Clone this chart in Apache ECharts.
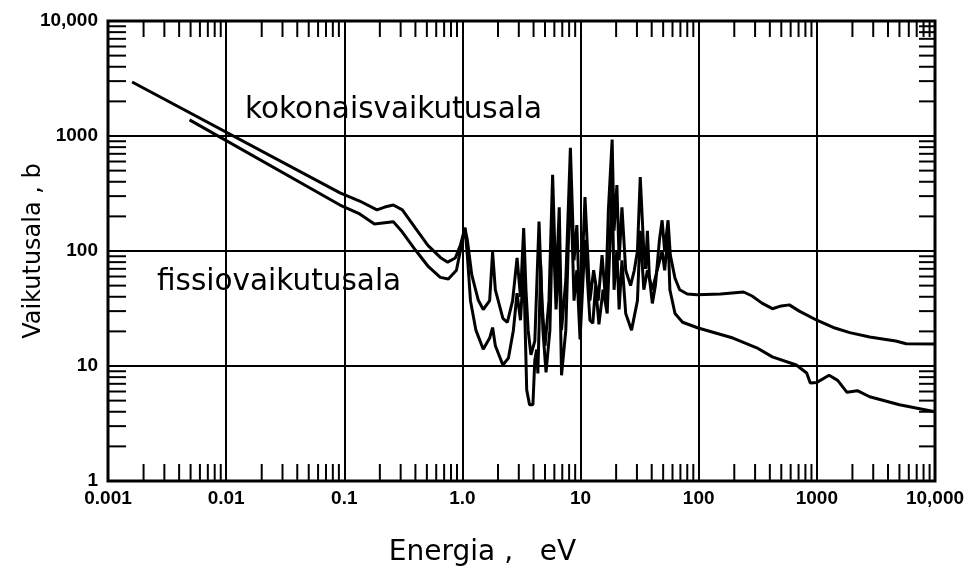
<!DOCTYPE html>
<html>
<head>
<meta charset="utf-8">
<script src="https://cdn.jsdelivr.net/npm/echarts@6/dist/echarts.min.js"></script>
<style>
  html, body { margin: 0; padding: 0; background: #fff; }
  #chart { width: 964px; height: 567px; }
</style>
</head>
<body>
<div id="chart"></div>
<script>
// tick labels
var xTickLabels = ['0.001', '0.01', '0.1', '1.0', '10', '100', '1000', '10,000'];
var yTickLabels = ['1', '10', '100', '1000', '10,000'];

// kokonaisvaikutusala (total), energy in eV and cross section in barns
var totalEnergy = [0.0016, 0.092, 0.135, 0.189, 0.22, 0.26, 0.31, 0.40, 0.51, 0.65, 0.75, 0.87, 0.96, 1.05, 1.1, 1.2,
  1.36, 1.5, 1.7, 1.8, 1.9, 2.2, 2.4, 2.66, 2.9, 3.1, 3.3, 3.45, 3.6, 3.8, 4.1, 4.45, 4.7, 5.0, 5.4, 5.8, 6.2, 6.6,
  6.9, 7.5, 8.2, 8.8, 9.3, 9.9, 10.9, 12.0, 12.9, 14.1, 15.2, 16.3, 17.2, 18.5, 19.2, 20.3, 21.2, 22.4, 24.1, 26.5,
  28.5, 30.3, 32, 34.3, 35.5, 36.8, 38.2, 40.5, 43, 46.5, 49, 51.5, 55, 57.5, 63, 69, 80, 97, 153, 240, 283, 343,
  420, 500, 585, 710, 1000, 1420, 1900, 2800, 3600, 4650, 5700, 10000];
var totalSigma = [2950, 320, 272, 228, 241, 251, 228, 158, 112, 88, 80, 87, 112, 158, 125, 62,
  37.5, 31, 37, 98, 46, 26, 24, 37, 87, 40, 158, 46, 20.5, 12.5, 16.5, 180, 37, 15, 37, 460, 46, 240,
  20.5, 56, 790, 83, 168, 25, 295, 37, 68, 37, 92, 37, 228, 930, 150, 375, 83, 240, 68, 50,
  68, 100, 440, 100, 70, 150, 60, 35, 50, 125, 185, 100, 185, 92, 58, 46, 42.3, 41.6, 42.3, 44, 40.6, 35.2,
  31.5, 33.3, 34, 30, 25, 21.4, 19.5, 17.9, 17.2, 16.5, 15.6, 15.5];

// fissiovaikutusala (fission)
var fissionEnergy = [0.0049, 0.092, 0.135, 0.18, 0.26, 0.31, 0.40, 0.51, 0.65, 0.76, 0.89, 0.98, 1.05, 1.1, 1.17, 1.3,
  1.5, 1.7, 1.8, 1.9, 2.2, 2.45, 2.7, 2.9, 3.1, 3.3, 3.4, 3.5, 3.7, 3.95, 4.1, 4.25, 4.35, 4.6, 4.8, 5.1, 5.5, 5.8,
  6.2, 6.6, 6.9, 7.5, 8.2, 8.8, 9.3, 9.9, 10.9, 12.0, 12.7, 13.4, 14.3, 15.5, 16.8, 17.8, 18.5, 19.2, 20.3, 21.2,
  22.4, 24.1, 27, 30.3, 32, 34.3, 36.8, 40.5, 44.5, 49, 51.5, 55, 57, 63, 73, 99, 195, 310, 420, 670, 820, 880,
  1000, 1270, 1500, 1800, 2200, 2800, 5000, 10000];
var fissionSigma = [1380, 251, 210, 172, 180, 146, 102, 74, 59, 57, 68, 112, 160, 92, 37, 20.5,
  14, 17.5, 21.6, 15, 10.2, 11.7, 20.5, 43, 25, 75, 20.5, 6.2, 4.6, 4.6, 11.3, 13.9, 8.6, 75, 20.5, 8.8, 20.5, 206,
  31, 102, 8.3, 20.5, 460, 37, 68, 17, 125, 25, 23.5, 50, 23, 46, 28.6, 125, 414, 46, 102, 31,
  83, 28.6, 20.5, 37, 150, 46, 68, 46, 68, 100, 68, 138, 46, 28.6, 24, 21.4, 17.5, 14.4, 12, 10.2, 8.7, 7.1,
  7.2, 8.3, 7.5, 5.9, 6.1, 5.4, 4.6, 4.0];

function zip(xs, ys) {
  return xs.map(function (x, i) { return [x, ys[i]]; });
}

// minor ticks 2..9 of every decade
var xMinor = [];
for (var k = -3; k < 4; k++) for (var m = 2; m < 10; m++) xMinor.push([m * Math.pow(10, k), 1]);
var yMinor = [];
for (var k2 = 0; k2 < 4; k2++) for (var m2 = 2; m2 < 10; m2++) yMinor.push([0.001, m2 * Math.pow(10, k2)]);

var tickStyle = { stroke: '#000', lineWidth: 2 };

function xTick(params, api) {
  var v = api.value(0);
  var b = api.coord([v, 1]);
  var t = api.coord([v, 10000]);
  return {
    type: 'group',
    children: [
      { type: 'line', shape: { x1: b[0], y1: b[1], x2: b[0], y2: b[1] - 17 }, style: tickStyle },
      { type: 'line', shape: { x1: t[0], y1: t[1], x2: t[0], y2: t[1] + 16 }, style: tickStyle }
    ]
  };
}

function yTick(params, api) {
  var v = api.value(1);
  var l = api.coord([0.001, v]);
  var r = api.coord([10000, v]);
  return {
    type: 'group',
    children: [
      { type: 'line', shape: { x1: l[0], y1: l[1], x2: l[0] + 18, y2: l[1] }, style: tickStyle },
      { type: 'line', shape: { x1: r[0], y1: r[1], x2: r[0] - 16, y2: r[1] }, style: tickStyle }
    ]
  };
}

var labelFont = { color: '#000', fontFamily: 'Liberation Sans', fontWeight: 'bold', fontSize: 19 };

var chart = echarts.init(document.getElementById('chart'));
chart.setOption({
  animation: false,
  backgroundColor: '#fff',
  grid: {
    left: 108, right: 29, top: 21, bottom: 86,
    outerBoundsMode: 'none',
    containLabel: false,
    show: true, borderColor: '#000', borderWidth: 3
  },
  xAxis: {
    type: 'log',
    logBase: 10,
    min: 0.001,
    max: 10000,
    name: 'Energia ,   eV',
    nameLocation: 'middle',
    nameGap: 58,
    nameMoveOverlap: false,
    nameTextStyle: { color: '#000', fontFamily: 'DejaVu Sans', fontSize: 28, padding: [0, 78, 0, 0] },
    axisLine: { show: false },
    axisTick: { show: false },
    splitLine: { show: true, lineStyle: { color: '#000', width: 2 } },
    axisLabel: Object.assign({
      margin: 8,
      showMinLabel: true,
      showMaxLabel: true,
      hideOverlap: false,
      formatter: function (v) { return xTickLabels[Math.round(Math.log10(v)) + 3]; }
    }, labelFont)
  },
  yAxis: {
    type: 'log',
    logBase: 10,
    min: 1,
    max: 10000,
    name: 'Vaikutusala , b',
    nameLocation: 'middle',
    nameGap: 62,
    nameMoveOverlap: false,
    nameTextStyle: { color: '#000', fontFamily: 'DejaVu Sans', fontSize: 24 },
    axisLine: { show: false },
    axisTick: { show: false },
    splitLine: { show: true, lineStyle: { color: '#000', width: 2 } },
    axisLabel: Object.assign({
      margin: 10,
      showMinLabel: true,
      showMaxLabel: true,
      hideOverlap: false,
      formatter: function (v) { return yTickLabels[Math.round(Math.log10(v))]; }
    }, labelFont)
  },
  graphic: [
    { type: 'text', left: 245, top: 95, style: { text: 'kokonaisvaikutusala', fill: '#000', font: '29.5px "DejaVu Sans"' } },
    { type: 'text', left: 157, top: 267, style: { text: 'fissiovaikutusala', fill: '#000', font: '29.5px "DejaVu Sans"' } }
  ],
  series: [
    {
      name: 'kokonaisvaikutusala',
      type: 'line',
      showSymbol: false,
      data: zip(totalEnergy, totalSigma),
      lineStyle: { color: '#000', width: 3 },
      z: 5
    },
    {
      name: 'fissiovaikutusala',
      type: 'line',
      showSymbol: false,
      data: zip(fissionEnergy, fissionSigma),
      lineStyle: { color: '#000', width: 3 },
      z: 5
    },
    { type: 'custom', renderItem: xTick, data: xMinor, encode: { x: 0, y: 1 }, clip: false, silent: true },
    { type: 'custom', renderItem: yTick, data: yMinor, encode: { x: 0, y: 1 }, clip: false, silent: true }
  ]
});
</script>
</body>
</html>
